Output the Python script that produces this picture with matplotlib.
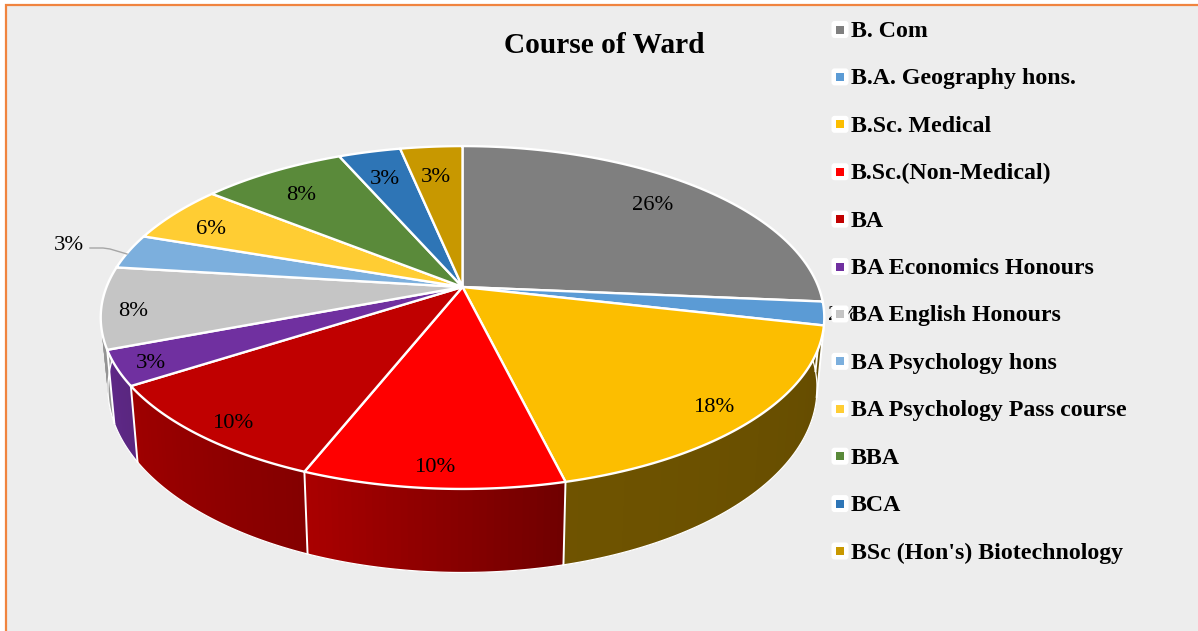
#!/usr/bin/env python3
import numpy as np
import matplotlib
matplotlib.use("Agg")
import matplotlib.pyplot as plt
from matplotlib.patches import FancyBboxPatch, Rectangle

plt.rcParams["font.family"] = ["Liberation Serif", "DejaVu Serif"]

courses = ["B. Com", "B.A. Geography hons.", "B.Sc. Medical", "B.Sc.(Non-Medical)", "BA",
           "BA Economics Honours", "BA English Honours", "BA Psychology hons",
           "BA Psychology Pass course", "BBA", "BCA", "BSc (Hon's) Biotechnology"]
counts = [24, 2, 16, 9, 9, 3, 7, 3, 5, 7, 3, 3]
pct_labels = ["26%", "2%", "18%", "10%", "10%", "3%", "8%", "3%", "6%", "8%", "3%", "3%"]
colors = ["#7F7F7F", "#5B9BD5", "#FCBE00", "#FF0000", "#C00000", "#7030A0",
          "#C5C5C5", "#7CAFDD", "#FFCD33", "#5A8A3A", "#2E75B6", "#C89800"]
# how dark the side wall gets, at the start and end of each slice (clockwise)
wall_start = [0.5, 0.5, 0.40, 0.44, 0.69, 0.80, 0.75, 0.6, 0.5, 0.5, 0.5, 0.5]
wall_end = [0.5, 0.5, 0.44, 0.67, 0.83, 0.85, 0.75, 0.6, 0.5, 0.5, 0.5, 0.5]
label_pos = [(653, 204), (843, 313), (714, 406), (435, 466), (233, 421), (151, 362),
             (133, 309), (69, 243), (211, 228), (301, 193), (385, 178), (436, 175)]

CX, CY = 462.5, 287
A, B, K = 356, 166, 0.178  # perspective of the pie top


def top_face(theta):
    # theta is clockwise from 12 o'clock
    x, y = np.sin(theta), np.cos(theta)
    w = 1 + K * y
    return CX + A * x / w, CY - B * y / w


def bottom_face(theta):
    x, y = top_face(theta)
    return CX + 0.98 * (x - CX), y + 68.6 + 0.074 * (y - CY)


fig = plt.figure(figsize=(11.98, 6.31), dpi=100, facecolor="white")
ax = fig.add_axes([0, 0, 1, 1])
ax.set_xlim(0, 1198)
ax.set_ylim(631, 0)
ax.axis("off")

ax.add_patch(Rectangle((6, 5), 1200, 640, fc="#EDEDED", ec="#F0843F", lw=1.6, zorder=0))

edges = np.cumsum([0] + counts) / sum(counts) * 2 * np.pi

# side walls first, the top face covers whatever is behind it
for i in range(len(counts)):
    t0, t1 = edges[i], edges[i + 1]
    base = np.array(matplotlib.colors.to_rgb(colors[i]))
    n = max(int((t1 - t0) * 60), 2)
    ts = np.linspace(t0, t1, n + 1)
    for j in range(n):
        shade = wall_start[i] + (wall_end[i] - wall_start[i]) * j / n
        # each strip runs a bit into the next one so no seams show
        stop = ts[min(j + 2, n)]
        seg = np.linspace(ts[j], stop, 5)
        xt, yt = top_face(seg)
        xb, yb = bottom_face(seg)
        ax.fill(np.r_[xt, xb[::-1]], np.r_[yt, yb[::-1]], color=base * shade, lw=0, zorder=1)
    xb, yb = bottom_face(np.linspace(t0, t1, 60))
    ax.plot(xb, yb, color="white", lw=0.9, zorder=2)
    xa, ya = top_face(t0)
    xc, yc = bottom_face(t0)
    ax.plot([xa, xc], [ya, yc], color="white", lw=1.4, zorder=2)

# top face
for i in range(len(counts)):
    seg = np.linspace(edges[i], edges[i + 1], 80)
    xs, ys = top_face(seg)
    ax.fill(np.r_[CX, xs], np.r_[CY, ys], fc=colors[i], ec="white", lw=1.7,
            joinstyle="round", zorder=3)

for lab, (lx, ly) in zip(pct_labels, label_pos):
    ax.text(lx, ly + 2, lab, fontsize=16.2, ha="center", va="center", color="black", zorder=4)

ax.plot([90, 103, 110, 127], [248, 248, 249, 254], color="#A6A6A6", lw=1.0, zorder=4)

ax.text(604.5, 45.5, "Course of Ward", fontsize=21.2, fontweight="bold", ha="center", va="center", zorder=5)

# legend
legend_y = np.linspace(29.5, 551, len(courses))
for name, col, ly in zip(courses, colors, legend_y):
    ax.add_patch(FancyBboxPatch((833.5, ly - 6.5), 13, 13, boxstyle="round,pad=2,rounding_size=3",
                                fc="white", ec="none", zorder=5))
    ax.add_patch(Rectangle((836, ly - 4), 8, 8, fc=col, ec="none", zorder=6))
    ax.text(851, ly + 2, name, fontsize=17.2, fontweight="bold", ha="left", va="center", zorder=6)

fig.savefig("out.png", dpi=100)
